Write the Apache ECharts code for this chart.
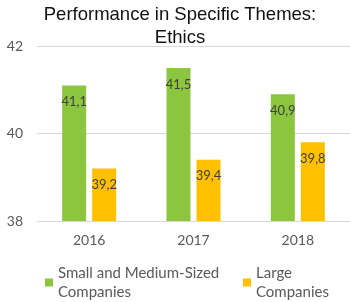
<!DOCTYPE html>
<html>
<head>
<meta charset="utf-8">
<script src="https://cdn.jsdelivr.net/npm/echarts@6/dist/echarts.min.js"></script>
<style>
  html, body { margin: 0; padding: 0; background: #fff; }
  #chart { width: 350px; height: 302px; }
</style>
</head>
<body>
<div id="chart"></div>
<script>
const years = ['2016', '2017', '2018'];
const smeValues = [41.1, 41.5, 40.9];
const largeValues = [39.2, 39.4, 39.8];
const smeName = 'Small and Medium-Sized\nCompanies';
const largeName = 'Large\nCompanies';

const myChart = echarts.init(document.getElementById('chart'));

const labelFont = 'Lato, "DejaVu Sans", sans-serif';

const legendText = {
  color: '#595959',
  fontSize: 15,
  fontFamily: labelFont,
  lineHeight: 19,
  padding: [19, 0, 0, 0],
};

const option = {
  animation: false,
  title: {
    text: 'Performance in Specific Themes:\nEthics',
    left: 180,
    textAlign: 'center',
    top: 3,
    padding: 0,
    textStyle: {
      color: '#111',
      fontSize: 18.5,
      fontWeight: 'normal',
      fontFamily: '"Liberation Sans", Arial, sans-serif',
      lineHeight: 23,
    },
  },
  grid: {
    left: 37,
    top: 46,
    width: 316,
    height: 175,
  },
  legend: [
    {
      data: [smeName],
      left: 45,
      top: 254,
      padding: 0,
      icon: 'rect',
      itemWidth: 8,
      itemHeight: 8,
      textStyle: legendText,
    },
    {
      data: [largeName],
      left: 243,
      top: 254,
      padding: 0,
      icon: 'rect',
      itemWidth: 8,
      itemHeight: 8,
      textStyle: legendText,
    },
  ],
  xAxis: {
    type: 'category',
    data: years,
    axisLine: { show: false },
    axisTick: { show: false },
    axisLabel: {
      color: '#595959',
      fontSize: 14,
      fontFamily: labelFont,
      margin: 12,
    },
  },
  yAxis: {
    type: 'value',
    min: 38,
    max: 42,
    interval: 2,
    axisLine: { show: false },
    axisTick: { show: false },
    axisLabel: {
      color: '#595959',
      fontSize: 14,
      fontFamily: labelFont,
      margin: 14,
    },
    splitLine: {
      lineStyle: { color: '#D9D9D9', width: 1 },
    },
  },
  series: [
    {
      name: smeName,
      type: 'bar',
      data: smeValues,
      barWidth: 24,
      barGap: '25%',
      itemStyle: { color: '#8CC63E' },
      label: {
        show: true,
        position: 'insideTop',
        distance: 10,
        color: '#404040',
        fontSize: 13,
        fontFamily: labelFont,
        formatter: (p) => String(p.value).replace('.', ','),
      },
    },
    {
      name: largeName,
      type: 'bar',
      data: largeValues,
      barWidth: 24,
      itemStyle: { color: '#FFC000' },
      label: {
        show: true,
        position: 'insideTop',
        distance: 10,
        color: '#404040',
        fontSize: 13,
        fontFamily: labelFont,
        formatter: (p) => String(p.value).replace('.', ','),
      },
    },
  ],
};

option && myChart.setOption(option);
</script>
</body>
</html>
